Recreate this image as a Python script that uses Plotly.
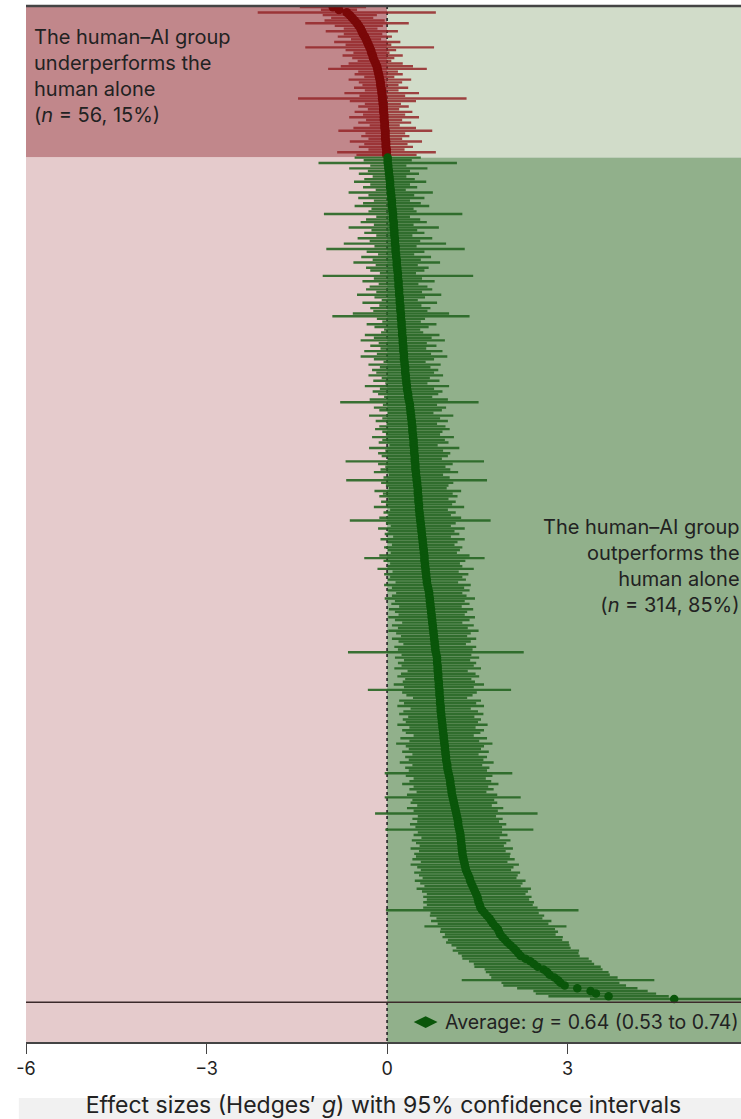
import plotly.graph_objects as go

# Effect sizes (Hedges' g), sorted from most negative to most positive (row order top -> bottom)
effect_g = [
    -0.90,-0.80,-0.67,-0.62,-0.58,-0.54,-0.50,-0.47,-0.44,-0.42,
    -0.40,-0.37,-0.35,-0.33,-0.31,-0.29,-0.27,-0.26,-0.24,-0.23,
    -0.21,-0.19,-0.17,-0.16,-0.15,-0.14,-0.13,-0.12,-0.11,-0.11,
    -0.10,-0.09,-0.09,-0.08,-0.08,-0.07,-0.07,-0.06,-0.06,-0.06,
    -0.05,-0.05,-0.05,-0.04,-0.04,-0.04,-0.03,-0.03,-0.03,-0.03,
    -0.02,-0.02,-0.02,-0.01,-0.01,-0.01,
    0.01,0.01,0.01,0.02,
    0.02,0.03,0.03,0.04,0.04,0.05,0.05,0.05,0.06,0.06,
    0.07,0.07,0.08,0.08,0.08,0.09,0.09,0.10,0.10,0.10,
    0.11,0.11,0.11,0.12,0.12,0.12,0.13,0.13,0.13,0.14,
    0.14,0.14,0.15,0.15,0.16,0.16,0.16,0.17,0.17,0.18,
    0.18,0.18,0.19,0.19,0.19,0.20,0.20,0.20,0.21,0.21,
    0.21,0.22,0.22,0.22,0.23,0.23,0.23,0.24,0.24,0.24,
    0.25,0.25,0.25,0.26,0.26,0.26,0.27,0.27,0.27,0.28,
    0.28,0.28,0.29,0.29,0.30,0.30,0.30,0.31,0.31,0.32,
    0.32,0.33,0.33,0.34,0.35,0.35,0.36,0.37,0.38,0.38,
    0.39,0.39,0.40,0.40,0.41,0.41,0.42,0.42,0.42,0.43,
    0.43,0.44,0.44,0.44,0.45,0.45,0.45,0.46,0.46,0.46,
    0.47,0.47,0.47,0.48,0.48,0.49,0.49,0.50,0.50,0.51,
    0.51,0.51,0.52,0.52,0.52,0.53,0.53,0.53,0.54,0.54,
    0.55,0.55,0.56,0.56,0.57,0.57,0.58,0.58,0.59,0.59,
    0.60,0.60,0.61,0.61,0.62,0.62,0.62,0.63,0.63,0.64,
    0.64,0.65,0.65,0.66,0.66,0.67,0.68,0.69,0.70,0.70,
    0.71,0.71,0.72,0.72,0.73,0.73,0.74,0.74,0.75,0.75,
    0.76,0.76,0.77,0.77,0.78,0.78,0.79,0.79,0.80,0.80,
    0.81,0.82,0.83,0.83,0.83,0.84,0.84,0.84,0.85,0.85,
    0.85,0.86,0.86,0.86,0.87,0.87,0.87,0.88,0.88,0.88,
    0.89,0.89,0.89,0.90,0.90,0.91,0.91,0.92,0.92,0.93,
    0.93,0.94,0.94,0.95,0.95,0.96,0.96,0.97,0.97,0.98,
    0.98,0.99,1.00,1.00,1.01,1.02,1.03,1.04,1.05,1.05,
    1.06,1.07,1.07,1.08,1.09,1.10,1.11,1.12,1.13,1.14,
    1.15,1.16,1.17,1.18,1.18,1.19,1.20,1.21,1.22,1.22,
    1.23,1.23,1.24,1.24,1.25,1.25,1.26,1.27,1.28,1.29,
    1.30,1.31,1.33,1.35,1.37,1.38,1.40,1.42,1.44,1.46,
    1.48,1.50,1.51,1.52,1.54,1.55,1.58,1.62,1.66,1.70,
    1.73,1.76,1.80,1.84,1.86,1.88,1.92,1.96,2.00,2.05,
    2.10,2.14,2.18,2.22,2.30,2.38,2.44,2.50,2.60,2.66,
    2.70,2.78,2.84,2.88,2.95,3.16,3.38,3.47,3.68,4.77,
]

# Half-widths of the 95% confidence intervals, same row order
ci_half = [
    0.55,0.30,1.48,0.45,0.35,0.50,0.86,0.40,0.28,0.60,
    0.32,0.45,0.25,0.55,0.38,1.07,0.42,0.30,0.50,0.35,
    0.28,0.45,0.60,0.82,0.33,0.40,0.25,0.52,0.36,0.30,
    0.45,0.28,0.62,0.38,1.40,0.55,0.30,0.42,0.26,0.48,
    0.35,0.58,0.30,0.44,0.25,0.52,0.78,0.33,0.40,0.28,
    0.60,0.36,0.45,0.30,0.82,0.50,
    0.55,0.40,1.15,0.30,0.65,0.35,0.50,0.28,0.42,0.60,
    0.33,0.45,0.25,0.70,0.38,0.55,0.30,0.48,0.62,0.35,
    0.40,1.15,0.28,0.45,0.55,0.33,0.75,0.38,0.50,0.30,
    0.62,0.42,0.85,0.35,1.15,0.48,0.30,0.58,0.40,0.72,
    0.35,0.52,0.45,0.30,1.25,0.40,0.60,0.33,0.48,0.55,
    0.38,0.70,0.42,0.30,0.62,0.35,0.50,0.45,0.80,1.14,
    0.40,0.32,0.58,0.45,0.30,0.35,0.62,0.48,0.70,0.40,
    0.55,0.38,0.65,0.45,0.72,0.50,0.35,0.60,0.42,0.55,
    0.48,0.62,0.40,0.55,0.35,0.70,0.45,0.58,0.50,0.40,
    0.65,1.15,0.45,0.60,0.52,0.38,0.70,0.48,0.60,0.42,
    0.55,0.62,0.50,0.45,0.68,0.52,0.58,0.40,0.75,0.48,
    0.60,0.55,0.45,1.15,0.62,0.50,0.58,0.70,0.45,0.55,
    1.17,0.60,0.52,0.48,0.72,0.58,0.65,0.50,0.62,0.55,
    0.75,0.48,0.60,0.52,0.68,1.17,0.58,0.50,0.72,0.55,
    0.62,0.48,0.70,0.58,0.52,0.65,0.60,0.55,0.75,1.00,
    0.68,0.58,0.62,0.80,0.55,0.70,0.60,0.65,0.52,0.72,
    0.60,0.68,0.55,0.62,0.75,0.58,0.65,0.52,0.70,0.60,
    0.55,0.72,0.62,0.50,0.68,0.58,0.75,0.62,0.55,0.70,
    0.60,0.52,0.68,0.62,1.46,0.58,0.70,0.55,0.65,0.60,
    0.72,0.50,0.62,0.68,0.55,0.60,0.75,0.58,1.19,0.62,
    0.55,0.45,0.68,0.60,0.72,0.50,0.62,0.70,0.55,0.65,
    0.60,0.75,0.55,0.68,0.62,0.50,0.72,0.58,0.80,0.65,
    0.60,0.72,0.55,0.68,0.62,0.78,0.58,0.70,0.65,1.06,
    0.72,0.60,0.68,0.80,0.62,0.70,0.58,0.75,1.13,0.68,
    0.72,0.62,0.80,0.70,1.35,0.65,0.75,0.68,0.80,0.72,
    1.23,0.70,0.78,0.65,0.82,0.75,0.70,0.85,0.72,0.80,
    0.78,0.85,0.72,0.90,0.80,0.75,0.88,0.82,0.78,0.92,
    0.85,0.80,0.95,0.88,0.82,0.90,0.85,0.92,0.88,0.95,
    1.60,0.90,0.95,0.88,1.00,0.92,1.18,0.95,0.98,0.92,
    1.00,0.95,1.02,0.98,0.95,1.05,1.00,0.98,1.05,1.02,
    1.00,1.05,0.98,1.02,1.00,1.05,1.60,0.98,1.02,1.00,
    0.95,1.00,1.00,1.40,
]

avg_g = 0.64
avg_lo = 0.53
avg_hi = 0.74

tick_vals = [-6, -3, 0, 3]
tick_text = ["-6", "\u22123", "0", "3"]

n_neg = sum(1 for v in effect_g if v < 0)
rows = list(range(len(effect_g)))
neg_rows = [r for r in rows if effect_g[r] < 0]
pos_rows = [r for r in rows if effect_g[r] >= 0]

X_MIN, X_MAX = -6, 5.88
Y_TOP, Y_BOT = -0.4, 385.0
Y_SPLIT = n_neg
Y_AVG_LINE = len(effect_g) + 0.2
Y_AVG = len(effect_g) + 7.6

FONT = "Inter, Noto Sans, sans-serif"

fig = go.Figure()

fig.add_trace(go.Scatter(
    x=[effect_g[r] for r in neg_rows], y=neg_rows, mode="markers",
    marker=dict(color="#7a0808", size=9),
    error_x=dict(type="data", symmetric=True, array=[ci_half[r] for r in neg_rows],
                 color="rgba(148,38,40,0.85)", thickness=2.4, width=0),
    showlegend=False, hoverinfo="x",
))
fig.add_trace(go.Scatter(
    x=[effect_g[r] for r in pos_rows], y=pos_rows, mode="markers",
    marker=dict(color="#0a560a", size=8.5),
    error_x=dict(type="data", symmetric=True, array=[ci_half[r] for r in pos_rows],
                 color="rgba(38,102,34,0.9)", thickness=2.4, width=0),
    showlegend=False, hoverinfo="x",
))
fig.add_trace(go.Scatter(
    x=[avg_g], y=[Y_AVG], mode="markers",
    marker=dict(color="#0a560a", size=17, symbol="diamond-wide"),
    showlegend=False, hoverinfo="x",
))

shapes = [
    dict(type="rect", xref="x", yref="y", x0=X_MIN, x1=0, y0=Y_TOP, y1=Y_SPLIT,
         fillcolor="#c1878b", line_width=0, layer="below"),
    dict(type="rect", xref="x", yref="y", x0=0, x1=X_MAX, y0=Y_TOP, y1=Y_SPLIT,
         fillcolor="#d1dcc9", line_width=0, layer="below"),
    dict(type="rect", xref="x", yref="y", x0=X_MIN, x1=0, y0=Y_SPLIT, y1=Y_BOT,
         fillcolor="#e5cbcc", line_width=0, layer="below"),
    dict(type="rect", xref="x", yref="y", x0=0, x1=X_MAX, y0=Y_SPLIT, y1=Y_BOT,
         fillcolor="#91b08b", line_width=0, layer="below"),
    dict(type="rect", xref="paper", yref="paper", x0=-0.01, x1=1.0, y0=-0.075, y1=-0.054,
         fillcolor="#f1f1f1", line_width=0, layer="below"),
    dict(type="line", xref="x", yref="y", x0=0, x1=0, y0=Y_TOP, y1=Y_BOT,
         line=dict(color="#333333", width=1.8, dash="dot"), layer="below"),
    dict(type="line", xref="paper", yref="y", x0=0, x1=1, y0=Y_AVG_LINE, y1=Y_AVG_LINE,
         line=dict(color="#3b2a2a", width=1.5)),
    dict(type="line", xref="paper", yref="paper", x0=0, x1=1, y0=1, y1=1,
         line=dict(color="#444444", width=2.5)),
]

annotations = [
    dict(xref="paper", yref="paper", x=0.008, y=0.984, xanchor="left", yanchor="top",
         align="left", showarrow=False,
         text="The human\u2013AI group<br>underperforms the<br>human alone<br>(<i>n</i> = 56, 15%)",
         font=dict(size=20, color="#222222", family=FONT)),
    dict(xref="paper", yref="y", x=1.0, xshift=1, y=208, xanchor="right", yanchor="middle",
         align="right", showarrow=False,
         text="The human\u2013AI group<br>outperforms the<br>human alone<br>(<i>n</i> = 314, 85%)",
         font=dict(size=20, color="#222222", family=FONT)),
    dict(xref="x", yref="y", x=0.93, y=Y_AVG, xanchor="left", yanchor="middle",
         showarrow=False,
         text="Average: <i>g</i> = 0.64 (0.53 to 0.74)",
         font=dict(size=19.5, color="#222222", family=FONT)),
]

fig.update_layout(
    width=741, height=1119,
    margin=dict(l=26, r=0, t=6, b=77),
    paper_bgcolor="white", plot_bgcolor="white",
    font=dict(family=FONT, color="#222222"),
    shapes=shapes, annotations=annotations,
    xaxis=dict(range=[X_MIN, X_MAX], tickvals=tick_vals, ticktext=tick_text,
               showgrid=False, zeroline=False, showline=True, linecolor="#444444", linewidth=1.5,
               ticks="outside", ticklen=10, tickcolor="#444444", tickwidth=1.2,
               tickfont=dict(size=18, color="#222222"),
               title=dict(text="Effect sizes (Hedges\u2032 <i>g</i>) with 95% confidence intervals",
                          font=dict(size=23, color="#222222"), standoff=19)),
    yaxis=dict(range=[Y_BOT, Y_TOP], showgrid=False, zeroline=False, showticklabels=False,
               showline=False, ticks=""),
)

fig.write_html(
    "out.html",
    config={"displayModeBar": False},
    post_script="document.body.style.margin='0px';document.body.style.overflow='hidden';",
)
